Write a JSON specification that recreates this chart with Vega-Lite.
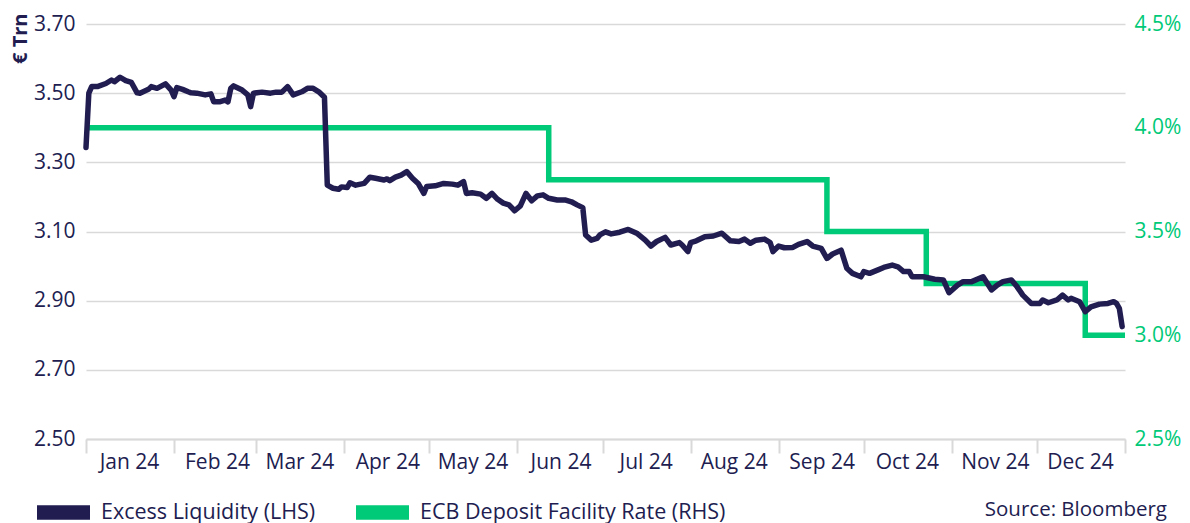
{
  "$schema": "https://vega.github.io/schema/vega-lite/v6.json",
  "width": 1039,
  "height": 415,
  "autosize": {"type": "none"},
  "padding": {"left": 86, "top": 24, "right": 65, "bottom": 84},
  "background": "white",
  "config": {"view": {"stroke": null}, "font": "Open Sans"},
  "title": {"text": "Source: Bloomberg", "orient": "bottom", "anchor": "end", "frame": "group", "fontSize": 20.5, "fontWeight": "normal", "color": "#211d51", "font": "Open Sans", "offset": -23, "dx": 42},
  "datasets": {
    "liq": [
      {"date": "2024-01-01", "value": 3.343}, {"date": "2024-01-02", "value": 3.500}, {"date": "2024-01-03", "value": 3.519}, {"date": "2024-01-05", "value": 3.519},
      {"date": "2024-01-08", "value": 3.528}, {"date": "2024-01-10", "value": 3.538}, {"date": "2024-01-11", "value": 3.533}, {"date": "2024-01-13", "value": 3.546},
      {"date": "2024-01-15", "value": 3.536}, {"date": "2024-01-17", "value": 3.531}, {"date": "2024-01-19", "value": 3.501}, {"date": "2024-01-20", "value": 3.500},
      {"date": "2024-01-23", "value": 3.511}, {"date": "2024-01-24", "value": 3.519}, {"date": "2024-01-26", "value": 3.514}, {"date": "2024-01-29", "value": 3.527},
      {"date": "2024-01-31", "value": 3.509}, {"date": "2024-02-01", "value": 3.490}, {"date": "2024-02-02", "value": 3.516}, {"date": "2024-02-04", "value": 3.511},
      {"date": "2024-02-06", "value": 3.504}, {"date": "2024-02-07", "value": 3.501}, {"date": "2024-02-09", "value": 3.500}, {"date": "2024-02-12", "value": 3.495},
      {"date": "2024-02-14", "value": 3.498}, {"date": "2024-02-15", "value": 3.475}, {"date": "2024-02-17", "value": 3.475}, {"date": "2024-02-19", "value": 3.480},
      {"date": "2024-02-20", "value": 3.475}, {"date": "2024-02-21", "value": 3.514}, {"date": "2024-02-22", "value": 3.521}, {"date": "2024-02-25", "value": 3.509},
      {"date": "2024-02-27", "value": 3.495}, {"date": "2024-02-28", "value": 3.461}, {"date": "2024-02-29", "value": 3.500}, {"date": "2024-03-03", "value": 3.503},
      {"date": "2024-03-06", "value": 3.500}, {"date": "2024-03-08", "value": 3.503}, {"date": "2024-03-10", "value": 3.503}, {"date": "2024-03-12", "value": 3.519},
      {"date": "2024-03-14", "value": 3.495}, {"date": "2024-03-17", "value": 3.504}, {"date": "2024-03-19", "value": 3.514}, {"date": "2024-03-21", "value": 3.514},
      {"date": "2024-03-23", "value": 3.504}, {"date": "2024-03-25", "value": 3.488}, {"date": "2024-03-26", "value": 3.234}, {"date": "2024-03-28", "value": 3.225},
      {"date": "2024-03-30", "value": 3.222}, {"date": "2024-03-31", "value": 3.229}, {"date": "2024-04-02", "value": 3.227}, {"date": "2024-04-03", "value": 3.241},
      {"date": "2024-04-05", "value": 3.234}, {"date": "2024-04-08", "value": 3.239}, {"date": "2024-04-10", "value": 3.257}, {"date": "2024-04-12", "value": 3.254},
      {"date": "2024-04-15", "value": 3.249}, {"date": "2024-04-16", "value": 3.252}, {"date": "2024-04-17", "value": 3.247}, {"date": "2024-04-19", "value": 3.257},
      {"date": "2024-04-21", "value": 3.263}, {"date": "2024-04-23", "value": 3.273}, {"date": "2024-04-25", "value": 3.254}, {"date": "2024-04-27", "value": 3.239},
      {"date": "2024-04-29", "value": 3.210}, {"date": "2024-04-30", "value": 3.230}, {"date": "2024-05-03", "value": 3.232}, {"date": "2024-05-06", "value": 3.239},
      {"date": "2024-05-09", "value": 3.237}, {"date": "2024-05-11", "value": 3.234}, {"date": "2024-05-13", "value": 3.244}, {"date": "2024-05-14", "value": 3.210},
      {"date": "2024-05-16", "value": 3.212}, {"date": "2024-05-19", "value": 3.208}, {"date": "2024-05-21", "value": 3.196}, {"date": "2024-05-23", "value": 3.210},
      {"date": "2024-05-25", "value": 3.193}, {"date": "2024-05-27", "value": 3.182}, {"date": "2024-05-29", "value": 3.177}, {"date": "2024-05-31", "value": 3.160},
      {"date": "2024-06-02", "value": 3.174}, {"date": "2024-06-04", "value": 3.210}, {"date": "2024-06-06", "value": 3.189}, {"date": "2024-06-08", "value": 3.203},
      {"date": "2024-06-10", "value": 3.206}, {"date": "2024-06-12", "value": 3.196}, {"date": "2024-06-15", "value": 3.191}, {"date": "2024-06-18", "value": 3.191},
      {"date": "2024-06-20", "value": 3.186}, {"date": "2024-06-22", "value": 3.177}, {"date": "2024-06-24", "value": 3.169}, {"date": "2024-06-25", "value": 3.090},
      {"date": "2024-06-27", "value": 3.075}, {"date": "2024-06-29", "value": 3.080}, {"date": "2024-06-30", "value": 3.090}, {"date": "2024-07-02", "value": 3.099},
      {"date": "2024-07-04", "value": 3.093}, {"date": "2024-07-07", "value": 3.098}, {"date": "2024-07-10", "value": 3.106}, {"date": "2024-07-13", "value": 3.095},
      {"date": "2024-07-16", "value": 3.075}, {"date": "2024-07-18", "value": 3.058}, {"date": "2024-07-20", "value": 3.071}, {"date": "2024-07-23", "value": 3.083},
      {"date": "2024-07-25", "value": 3.061}, {"date": "2024-07-28", "value": 3.068}, {"date": "2024-07-29", "value": 3.061}, {"date": "2024-07-31", "value": 3.042},
      {"date": "2024-08-01", "value": 3.068}, {"date": "2024-08-03", "value": 3.073}, {"date": "2024-08-06", "value": 3.085}, {"date": "2024-08-09", "value": 3.087},
      {"date": "2024-08-12", "value": 3.095}, {"date": "2024-08-15", "value": 3.073}, {"date": "2024-08-18", "value": 3.071}, {"date": "2024-08-20", "value": 3.078},
      {"date": "2024-08-22", "value": 3.066}, {"date": "2024-08-24", "value": 3.075}, {"date": "2024-08-27", "value": 3.078}, {"date": "2024-08-29", "value": 3.068},
      {"date": "2024-08-30", "value": 3.042}, {"date": "2024-09-01", "value": 3.058}, {"date": "2024-09-03", "value": 3.053}, {"date": "2024-09-06", "value": 3.054},
      {"date": "2024-09-08", "value": 3.063}, {"date": "2024-09-11", "value": 3.071}, {"date": "2024-09-13", "value": 3.058}, {"date": "2024-09-16", "value": 3.051},
      {"date": "2024-09-18", "value": 3.022}, {"date": "2024-09-20", "value": 3.035}, {"date": "2024-09-23", "value": 3.046}, {"date": "2024-09-25", "value": 2.994},
      {"date": "2024-09-27", "value": 2.979}, {"date": "2024-09-30", "value": 2.969}, {"date": "2024-10-01", "value": 2.984}, {"date": "2024-10-03", "value": 2.979},
      {"date": "2024-10-06", "value": 2.989}, {"date": "2024-10-08", "value": 2.996}, {"date": "2024-10-11", "value": 3.003}, {"date": "2024-10-13", "value": 2.998},
      {"date": "2024-10-15", "value": 2.984}, {"date": "2024-10-17", "value": 2.984}, {"date": "2024-10-18", "value": 2.969}, {"date": "2024-10-22", "value": 2.969},
      {"date": "2024-10-26", "value": 2.962}, {"date": "2024-10-29", "value": 2.960}, {"date": "2024-10-31", "value": 2.923}, {"date": "2024-11-03", "value": 2.945},
      {"date": "2024-11-05", "value": 2.955}, {"date": "2024-11-08", "value": 2.955}, {"date": "2024-11-12", "value": 2.969}, {"date": "2024-11-15", "value": 2.931},
      {"date": "2024-11-17", "value": 2.945}, {"date": "2024-11-19", "value": 2.955}, {"date": "2024-11-22", "value": 2.960}, {"date": "2024-11-24", "value": 2.940},
      {"date": "2024-11-26", "value": 2.916}, {"date": "2024-11-29", "value": 2.892}, {"date": "2024-12-02", "value": 2.892}, {"date": "2024-12-03", "value": 2.902},
      {"date": "2024-12-05", "value": 2.894}, {"date": "2024-12-08", "value": 2.902}, {"date": "2024-12-10", "value": 2.916}, {"date": "2024-12-12", "value": 2.902},
      {"date": "2024-12-13", "value": 2.907}, {"date": "2024-12-16", "value": 2.897}, {"date": "2024-12-18", "value": 2.868}, {"date": "2024-12-20", "value": 2.882},
      {"date": "2024-12-23", "value": 2.890}, {"date": "2024-12-26", "value": 2.892}, {"date": "2024-12-28", "value": 2.897}, {"date": "2024-12-29", "value": 2.892},
      {"date": "2024-12-30", "value": 2.878}, {"date": "2024-12-31", "value": 2.825}
    ],
    "rate": [
      {"date": "2024-01-01", "value": 4.0},
      {"date": "2024-06-12", "value": 3.75},
      {"date": "2024-09-18", "value": 3.5},
      {"date": "2024-10-23", "value": 3.25},
      {"date": "2024-12-18", "value": 3.0},
      {"date": "2025-01-01", "value": 3.0}
    ]
  },
  "layer": [
    {
      "data": {"name": "rate"},
      "mark": {"type": "line", "interpolate": "step-after", "strokeWidth": 5.5, "strokeCap": "butt", "strokeJoin": "miter"},
      "encoding": {
        "x": {"field": "date", "type": "temporal"},
        "y": {
          "field": "value", "type": "quantitative",
          "scale": {"domain": [2.5, 4.5], "nice": false, "zero": false},
          "axis": {"orient": "right", "values": [2.5, 3, 3.5, 4, 4.5], "labelExpr": "format(datum.value, '.1f') + '%'", "grid": false, "domain": false, "ticks": false, "tickSize": 0, "labelPadding": 9, "labelFontSize": 21, "labelFont": "Open Sans", "labelColor": "#00c977", "title": null}
        },
        "color": {"datum": "ECB Deposit Facility Rate (RHS)", "type": "nominal"}
      }
    },
    {
      "data": {"name": "liq"},
      "mark": {"type": "line", "strokeWidth": 5.5, "strokeCap": "round", "strokeJoin": "round"},
      "encoding": {
        "x": {
          "field": "date", "type": "temporal",
          "scale": {"type": "utc", "domain": [{"year": 2024, "month": 1, "date": 1, "utc": true}, {"year": 2025, "month": 1, "date": 1, "utc": true}]},
          "axis": {
            "values": [
              {"year": 2024, "month": 1, "date": 1, "utc": true}, {"year": 2024, "month": 2, "date": 1, "utc": true}, {"year": 2024, "month": 3, "date": 1, "utc": true},
              {"year": 2024, "month": 4, "date": 1, "utc": true}, {"year": 2024, "month": 5, "date": 1, "utc": true}, {"year": 2024, "month": 6, "date": 1, "utc": true},
              {"year": 2024, "month": 7, "date": 1, "utc": true}, {"year": 2024, "month": 8, "date": 1, "utc": true}, {"year": 2024, "month": 9, "date": 1, "utc": true},
              {"year": 2024, "month": 10, "date": 1, "utc": true}, {"year": 2024, "month": 11, "date": 1, "utc": true}, {"year": 2024, "month": 12, "date": 1, "utc": true},
              {"year": 2025, "month": 1, "date": 1, "utc": true}
            ],
            "labelExpr": "utcyear(datum.value) > 2024 ? '' : utcFormat(datum.value, '%b %y')",
            "labelOffset": 43, "labelAlign": "center", "labelBaseline": "alphabetic", "labelPadding": 15,
            "tickSize": 14, "tickColor": "#d9d9d9", "tickWidth": 2,
            "domainColor": "#d9d9d9", "domainWidth": 2,
            "grid": false, "labelFontSize": 21, "labelFont": "Open Sans", "labelColor": "#211d51",
            "title": null, "labelFlush": false, "labelOverlap": false, "labelBound": false
          }
        },
        "y": {
          "field": "value", "type": "quantitative",
          "scale": {"domain": [2.5, 3.7], "nice": false, "zero": false},
          "axis": {
            "orient": "left", "values": [2.5, 2.7, 2.9, 3.1, 3.3, 3.5, 3.7], "format": ".2f",
            "grid": true, "gridColor": "#d9d9d9", "gridWidth": 1.5,
            "domain": false, "ticks": false, "tickSize": 0, "labelPadding": 11,
            "labelFontSize": 21, "labelFont": "Open Sans", "labelColor": "#211d51",
            "title": "€ Trn", "titleFontSize": 20, "titleFontWeight": "bold", "titleFont": "Open Sans", "titleColor": "#211d51",
            "titleX": -66, "titleY": -11, "titleAngle": -90, "titleAlign": "right", "titleBaseline": "middle"
          }
        },
        "color": {
          "datum": "Excess Liquidity (LHS)", "type": "nominal",
          "scale": {"domain": ["Excess Liquidity (LHS)", "ECB Deposit Facility Rate (RHS)"], "range": ["#211d51", "#00c977"]},
          "legend": {
            "orient": "none", "legendX": -49, "legendY": 462, "direction": "horizontal", "title": null,
            "symbolType": "M-1,-0.27H1V0.27H-1Z", "symbolSize": 2809, "symbolStrokeWidth": 0,
            "labelFontSize": 21.5, "labelFont": "Open Sans", "labelColor": "#211d51", "labelLimit": 500,
            "columnPadding": 40, "labelOffset": 11, "padding": 0,
            "encode": {"symbols": {"update": {"fill": {"scale": "color", "field": "value"}, "opacity": {"value": 1}, "strokeWidth": {"value": 0}}}}
          }
        }
      }
    }
  ],
  "resolve": {"scale": {"y": "independent"}}
}
